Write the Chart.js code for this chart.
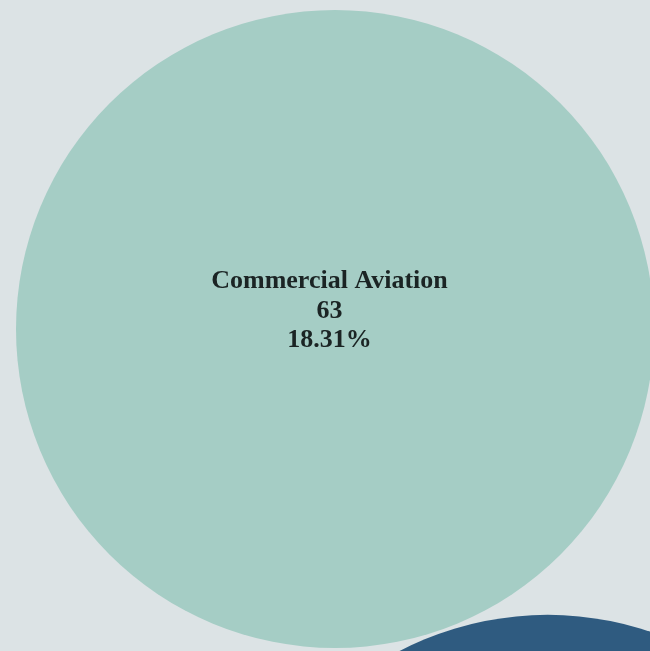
<!DOCTYPE html>
<html>
<head>
<meta charset="utf-8">
<script src="https://cdn.jsdelivr.net/npm/chart.js@4"></script>
<style>
  html,body{margin:0;padding:0;background:#dce3e5;}
  #c{display:block;}
</style>
</head>
<body>
<canvas id="c" width="650" height="651"></canvas>
<script>
// ---- data ----
const categories = ['Commercial Aviation', 'Defense'];
const values = [63, 64];
const colors = ['#a5cdc5', '#2f5b80'];
const TOTAL = 344;            // total of all categories (63 -> 18.31%)

// ---- layout of the packed bubbles (visible crop of a larger chart) ----
const radiusPerSqrt = 40.19;  // bubble radius = k * sqrt(value)
const firstCenter = [335, 329];
const packAngleDeg = 70.7;    // direction from first bubble to second
const packGap = 3;

const radii = values.map(v => radiusPerSqrt * Math.sqrt(v));
const centers = [firstCenter];
{
  const a = packAngleDeg * Math.PI / 180;
  const d = radii[0] + radii[1] + packGap;
  centers.push([firstCenter[0] + d * Math.cos(a), firstCenter[1] + d * Math.sin(a)]);
}
const points = values.map((v, i) => ({x: centers[i][0], y: centers[i][1], r: radii[i]}));

const labelPlugin = {
  id: 'bubbleLabels',
  afterDatasetsDraw(chart) {
    const ctx = chart.ctx;
    const meta = chart.getDatasetMeta(0);
    ctx.save();
    ctx.fillStyle = '#1b2424';
    ctx.font = 'bold 25px "Liberation Serif", "Times New Roman", serif';
    ctx.textAlign = 'center';
    ctx.textBaseline = 'alphabetic';
    const offs = [-41, -11, 18];
    meta.data.forEach((el, i) => {
      const pct = (values[i] / TOTAL * 100).toFixed(2) + '%';
      const lines = [categories[i], String(values[i]), pct];
      const cx = el.x - 5.5;
      lines.forEach((t, k) => {
        ctx.save();
        ctx.translate(cx, el.y + offs[k]);
        ctx.scale(1.04, 1);
        ctx.fillText(t, 0, 0);
        ctx.restore();
      });
    });
    ctx.restore();
  }
};

new Chart(document.getElementById('c'), {
  type: 'bubble',
  data: {
    datasets: [{
      data: points,
      backgroundColor: colors,
      borderWidth: 0,
      hoverRadius: 0,
      clip: false
    }]
  },
  options: {
    responsive: false,
    animation: false,
    events: [],
    layout: {padding: 0, autoPadding: false},
    plugins: {legend: {display: false}, tooltip: {enabled: false}},
    scales: {
      x: {type: 'linear', display: false, min: 0, max: 650},
      y: {type: 'linear', display: false, min: 0, max: 651, reverse: true}
    }
  },
  plugins: [labelPlugin]
});
</script>
</body>
</html>
